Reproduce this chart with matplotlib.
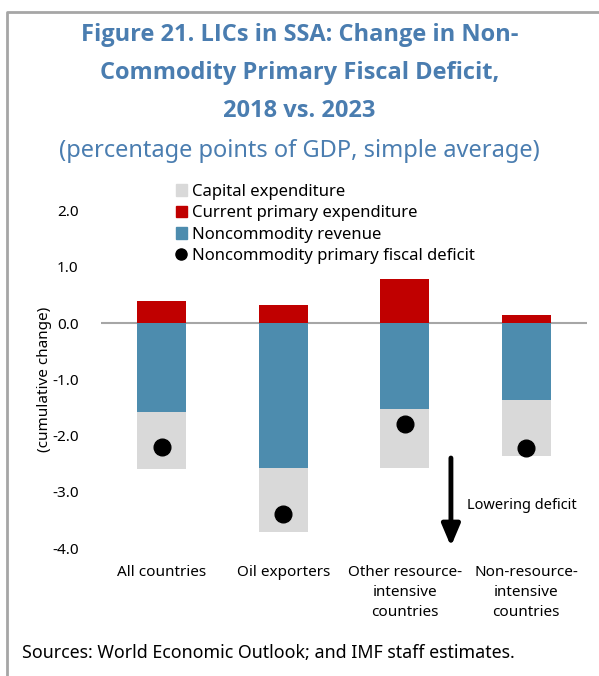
import numpy as np
import matplotlib.pyplot as plt
from matplotlib.lines import Line2D
from matplotlib.patches import Patch

plt.rcParams['font.family'] = ['Noto Sans', 'DejaVu Sans']

# Datos (puntos porcentuales del PIB)
categorias = ['All countries', 'Oil exporters', 'Other resource-\nintensive\ncountries',
              'Non-resource-\nintensive\ncountries']
gasto_corriente = [0.40, 0.32, 0.79, 0.14]
ingreso_no_commodity = [-1.58, -2.57, -1.52, -1.37]
gasto_capital = [-1.02, -1.14, -1.06, -0.99]
deficit_primario = [-2.20, -3.40, -1.80, -2.22]

azul_titulo = '#4a7db0'
c_capital = '#d9d9d9'
c_corriente = '#c00000'
c_ingreso = '#4d8cae'

fig = plt.figure(figsize=(5.99, 6.76), dpi=100)
ax = fig.add_axes([0.1686, 0.1893, 0.8114, 0.5409])

x = np.arange(len(categorias))
ancho = 0.4
ax.bar(x, gasto_corriente, ancho, color=c_corriente, zorder=2)
ax.bar(x, ingreso_no_commodity, ancho, color=c_ingreso, zorder=2)
ax.bar(x, gasto_capital, ancho, bottom=ingreso_no_commodity, color=c_capital, zorder=2)
ax.plot(x, deficit_primario, 'o', color='black', markersize=12, zorder=3)
ax.axhline(0, color='#a6a6a6', linewidth=1.5, zorder=1)

ax.set_xlim(-0.5, 3.5)
ax.set_ylim(-4, 2.5)
ax.set_yticks([-4, -3, -2, -1, 0, 1, 2])
ax.set_yticklabels([f'{v:.1f}' for v in [-4, -3, -2, -1, 0, 1, 2]], fontsize=11)
ax.set_xticks(x)
ax.set_xticklabels(categorias, fontsize=11, linespacing=1.45)
ax.tick_params(length=0, pad=12)
ax.tick_params(axis='y', pad=16)
for s in ax.spines.values():
    s.set_visible(False)
ax.set_ylabel('(cumulative change)', fontsize=11)
ax.yaxis.set_label_coords(-0.10, 0.46)

# Flecha de "Lowering deficit"
ax.annotate('', xy=(2.38, -3.97), xytext=(2.38, -2.4), annotation_clip=False,
            arrowprops=dict(arrowstyle='-|>,head_width=0.55,head_length=1.3',
                            color='black', lw=3.5, shrinkA=0, shrinkB=0))
ax.text(2.51, -3.24, 'Lowering deficit', fontsize=10.5, va='center', ha='left')

handles = [Patch(color=c_capital, label='Capital expenditure'),
           Patch(color=c_corriente, label='Current primary expenditure'),
           Patch(color=c_ingreso, label='Noncommodity revenue'),
           Line2D([], [], marker='o', color='black', linestyle='none', markersize=8,
                  label='Noncommodity primary fiscal deficit')]
ax.legend(handles=handles, loc='upper left', bbox_to_anchor=(0.14, 1.014), frameon=False,
          fontsize=12, handlelength=0.65, handleheight=0.7, handletextpad=0.35,
          labelspacing=0.32, borderaxespad=0)

# Títulos
titulo = dict(ha='center', va='center', fontsize=17, fontweight='bold',
              color=azul_titulo, family=['Open Sans', 'DejaVu Sans'])
fig.text(0.5, 0.948, 'Figure 21. LICs in SSA: Change in Non-', **titulo)
fig.text(0.5, 0.892, 'Commodity Primary Fiscal Deficit,', **titulo)
fig.text(0.5, 0.836, '2018 vs. 2023', **titulo)
fig.text(0.5, 0.777, '(percentage points of GDP, simple average)', ha='center', va='center',
         fontsize=17, color=azul_titulo)

fig.text(0.037, 0.034, 'Sources: World Economic Outlook; and IMF staff estimates.',
         ha='left', va='center', fontsize=12.8)

# Marco gris (arriba e izquierda)
fig.add_artist(Line2D([0.012, 0.012, 1.0], [0.0, 0.982, 0.982], color='#a6a6a6',
                      linewidth=2, transform=fig.transFigure))

fig.savefig('out.png', dpi=100)
